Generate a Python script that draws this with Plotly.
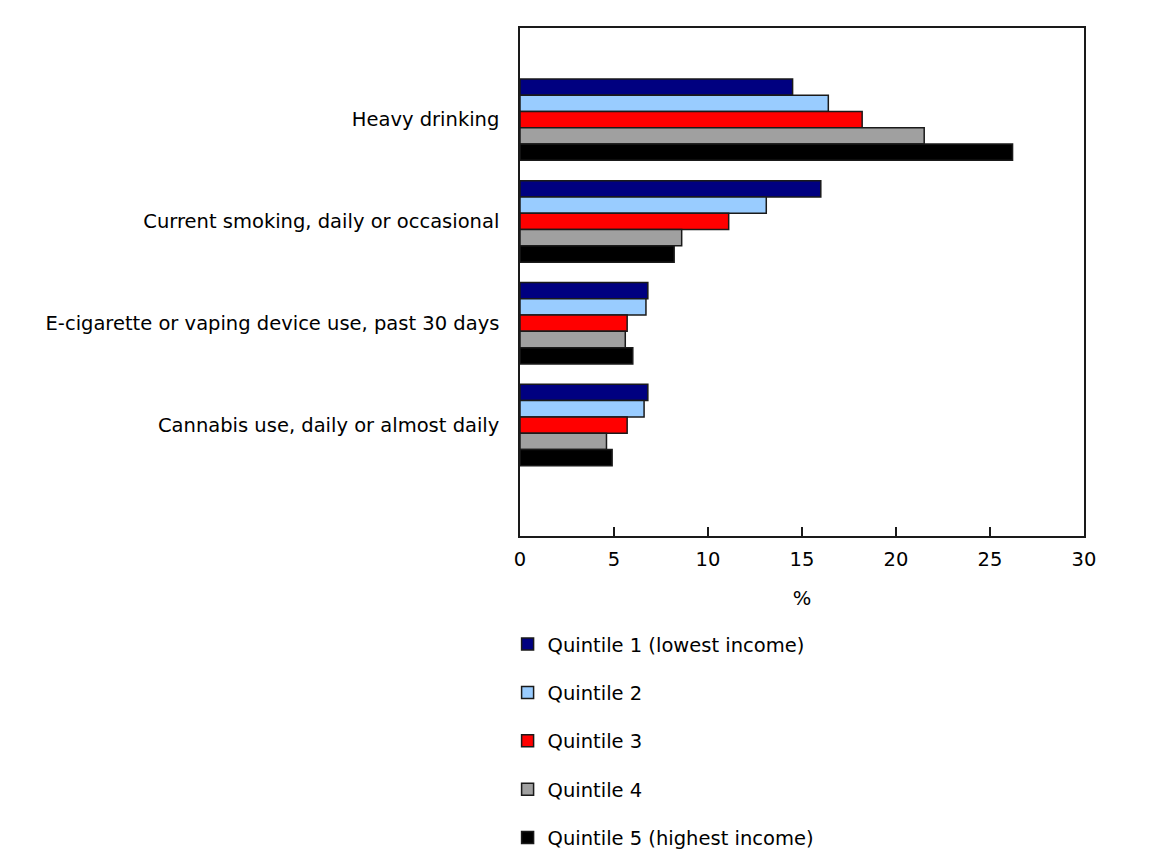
import plotly.graph_objects as go

categories = [
    "Heavy drinking",
    "Current smoking, daily or occasional",
    "E-cigarette or vaping device use, past 30 days",
    "Cannabis use, daily or almost daily",
]
series_names = [
    "Quintile 1 (lowest income)",
    "Quintile 2",
    "Quintile 3",
    "Quintile 4",
    "Quintile 5 (highest income)",
]
q1 = [14.5, 16.0, 6.8, 6.8]
q2 = [16.4, 13.1, 6.7, 6.6]
q3 = [18.2, 11.1, 5.7, 5.7]
q4 = [21.5, 8.6, 5.6, 4.6]
q5 = [26.2, 8.2, 6.0, 4.9]
colors = ["#000080", "#99CCFF", "#FF0000", "#A0A0A0", "#000000"]
x_ticks = [0, 5, 10, 15, 20, 25, 30]

FONT = "DejaVu Sans, Verdana, sans-serif"
FS = 19.5

fig = go.Figure()
for i, (name, vals, col) in enumerate(zip(series_names, [q1, q2, q3, q4, q5], colors)):
    fig.add_trace(go.Bar(
        y=categories, x=vals, name=name, orientation="h",
        marker=dict(color=col, line=dict(color="#1a1a1a", width=1.5)),
        legendgroup=f"g{i}",
    ))

fig.update_layout(
    width=1145, height=859,
    margin=dict(l=512, r=69, t=20, b=331),
    paper_bgcolor="white", plot_bgcolor="white",
    barmode="group", bargap=0.2, bargroupgap=0,
    font=dict(family=FONT, size=FS, color="#000000"),
    showlegend=True,
    legend=dict(
        x=-0.022, xanchor="left", xref="paper",
        y=0.2818, yanchor="top", yref="container",
        orientation="v", tracegroupgap=20,
        font=dict(family=FONT, size=FS, color="#000000"),
        bgcolor="rgba(0,0,0,0)",
    ),
    xaxis=dict(
        range=[0, 30], tickvals=x_ticks, ticks="inside", ticklen=9,
        tickwidth=1.5, tickcolor="#1a1a1a",
        showline=True, linecolor="#1a1a1a", linewidth=1.5, mirror=True,
        showgrid=False, zeroline=False,
        ticklabelstandoff=5,
        title=dict(text="%", standoff=21, font=dict(size=FS)),
        tickfont=dict(size=FS),
    ),
    yaxis=dict(
        type="category", categoryorder="array", categoryarray=categories,
        range=[4.09, -0.9],
        showline=True, linecolor="#1a1a1a", linewidth=1.5, mirror=True,
        showgrid=False, zeroline=False, ticks="",
        ticklabelstandoff=15,
        tickfont=dict(size=FS),
    ),
)

fig.write_html("out.html")
